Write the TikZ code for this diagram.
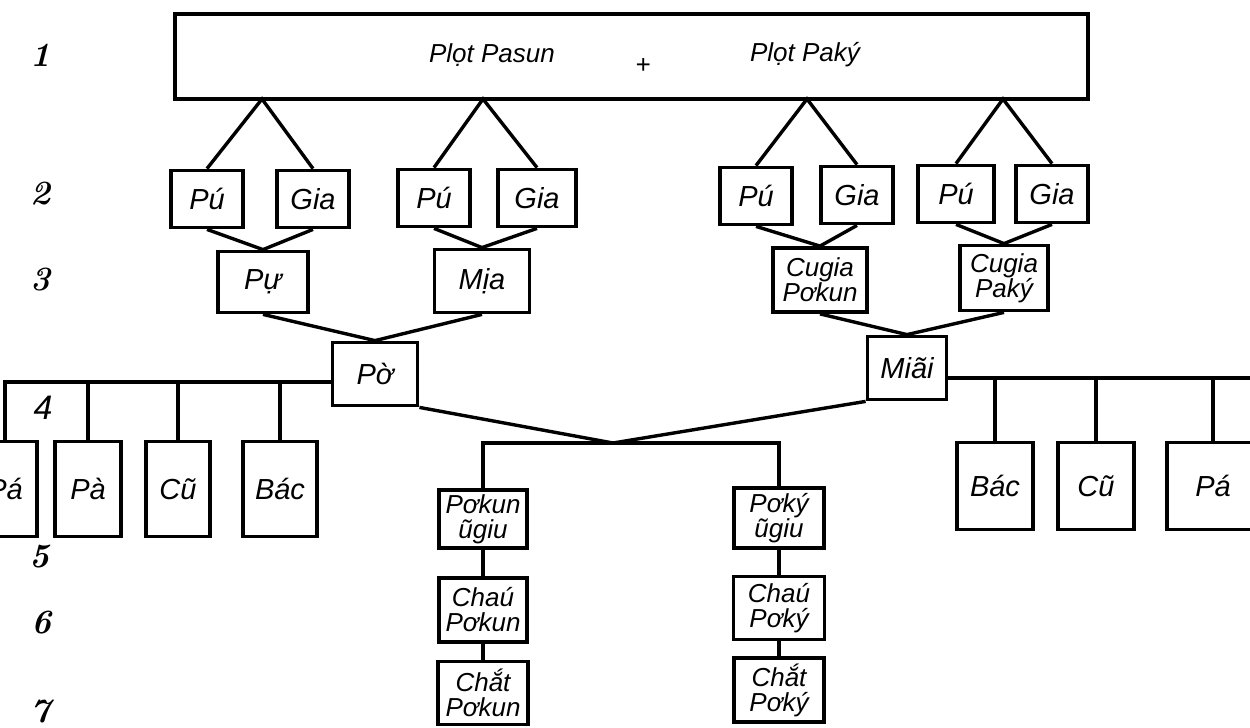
\documentclass[tikz,border=0pt]{standalone}
\usepackage{fontspec}
\newfontfamily\lettering{Liberation Sans}
\usetikzlibrary{positioning,calc}
\tikzset{
  kinbox/.style={draw,line width=3.8pt,inner sep=0pt,minimum width=72pt,minimum height=57pt,align=center,font=\lettering\itshape\fontsize{29}{27}\selectfont},
  pairbox/.style={kinbox,font=\lettering\itshape\fontsize{26}{25}\selectfont},
  sidebox/.style={kinbox,minimum height=95pt},
  kinline/.style={line width=3.4pt},
  toptext/.style={font=\lettering\itshape\fontsize{26}{26}\selectfont},
  rownum/.style={font=\bfseries\itshape\fontsize{34}{34}\selectfont}
}

\begin{document}
\begin{tikzpicture}[x=1pt,y=-1pt]
\useasboundingbox (0,0) rectangle (1250,728);
\clip (0,0) rectangle (1250,728);
% generation 1
\node[kinbox,minimum width=913pt,minimum height=85pt,line width=3.2pt] (cap) at (631.5,56.5) {};
\node[toptext] (plotA) at (492,55) {Plọt Pasun};
\node[toptext] (plus) at (643,66) {+};
\node[toptext] (plotB) at (805,55) {Plọt Paký};
\coordinate (apA) at (262,99);
\coordinate (apB) at (483,99);
\coordinate (apC) at (807,99);
\coordinate (apD) at (1003,99);
% generation 2
\node[kinbox] (puA) at (207,199) {Pú};
\node[kinbox] (giaA) at (313,199) {Gia};
\node[kinbox] (puB) at (434,198) {Pú};
\node[kinbox,minimum width=78pt] (giaB) at (537,198) {Gia};
\node[kinbox] (puC) at (756,196) {Pú};
\node[kinbox] (giaC) at (857,195) {Gia};
\node[kinbox,minimum width=76pt] (puD) at (956,194) {Pú};
\node[kinbox] (giaD) at (1052,194) {Gia};
% generation 3
\node[kinbox,minimum width=90pt,minimum height=61pt] (pu) at (263,282) {Pự};
\node[kinbox,minimum width=95pt,minimum height=63pt] (mia) at (482,281) {Mịa};
\node[pairbox,minimum width=94pt,minimum height=64pt] (cgPk) at (820,280) {Cugia\\Pơkun};
\node[pairbox,minimum width=88pt,minimum height=65pt] (cgPy) at (1004,278) {Cugia\\Paký};
% generation 4
\node[kinbox,minimum width=85pt,minimum height=63pt] (po) at (375,374) {Pờ};
\node[kinbox,minimum width=79pt,minimum height=63pt] (miai) at (907,368) {Miãi};
\node[sidebox,minimum width=64pt] (pal) at (5,489) {Pá};
\node[sidebox,minimum width=66pt] (pah) at (88,489) {Pà};
\node[sidebox,minimum width=64pt] (cul) at (178,489) {Cũ};
\node[sidebox,minimum width=74pt] (bacl) at (280,489) {Bác};
\node[sidebox,minimum width=76pt,minimum height=87pt] (bacr) at (995,486) {Bác};
\node[sidebox,minimum width=76pt,minimum height=87pt] (cur) at (1096,486) {Cũ};
\node[sidebox,minimum width=92pt,minimum height=87pt] (par) at (1213,486) {Pá};
% generations 5--7
\node[pairbox,minimum width=88pt,minimum height=58pt] (kunA) at (483,519) {Pơkun\\ũgiu};
\node[pairbox,minimum width=88pt,minimum height=64pt] (kunB) at (483,610) {Chaú\\Pơkun};
\node[pairbox,minimum width=90pt,minimum height=63pt] (kunC) at (483,693) {Chắt\\Pơkun};
\node[pairbox,minimum width=90pt,minimum height=60pt] (kyA) at (779,518) {Pơký\\ũgiu};
\node[pairbox,minimum width=91pt,minimum height=63pt] (kyB) at (779,608) {Chaú\\Pơký};
\node[pairbox,minimum width=90pt,minimum height=64pt] (kyC) at (779,690) {Chắt\\Pơký};
% row numbers
\node[rownum] (r1) at (41,55) {1};
\node[rownum] (r2) at (41,194) {2};
\node[rownum] (r3) at (41,280) {3};
\node[font=\lettering\itshape\fontsize{34}{34}\selectfont] (r4) at (43,408) {4};
\node[rownum] (r5) at (40,557) {5};
\node[rownum] (r6) at (42,623) {6};
\node[rownum] (r7) at (41,712) {7};
% links
\draw[kinline] (puA.north) -- (apA) -- (giaA.north);
\draw[kinline] (puB.north) -- (apB) -- (giaB.north);
\draw[kinline] (puC.north) -- (apC) -- (giaC.north);
\draw[kinline] (puD.north) -- (apD) -- (giaD.north);
\draw[kinline] (puA.south) -- (pu.north) -- (giaA.south);
\draw[kinline] (puB.south) -- (mia.north) -- (giaB.south);
\draw[kinline] (puC.south) -- (cgPk.north) -- (giaC.south);
\draw[kinline] (puD.south) -- (cgPy.north) -- (giaD.south);
\draw[kinline] (pu.south) -- (po.north) -- (mia.south);
\draw[kinline] (cgPk.south) -- (miai.north) -- (cgPy.south);
\coordinate (rimL) at (5,382);
\coordinate (rimR) at (1260,378);
\draw[kinline] (po.west |- rimL) -| (pal.north);
\foreach \k in {pah,cul,bacl} \draw[kinline] (\k.north) -- (\k.north |- rimL);
\draw[kinline] (miai.east |- rimR) -- (rimR);
\foreach \k in {bacr,cur,par} \draw[kinline] (\k.north) -- (\k.north |- rimR);
\coordinate (hub) at (613,443);
\draw[kinline] (po.south east) -- (hub) -- (miai.south west);
\draw[kinline] (kunA.north) |- (hub) -| (kyA.north);
\draw[kinline] (kunA.south) -- (kunB.north);
\draw[kinline] (kunB.south) -- (kunC.north);
\draw[kinline] (kyA.south) -- (kyB.north);
\draw[kinline] (kyB.south) -- (kyC.north);
\end{tikzpicture}
\end{document}
